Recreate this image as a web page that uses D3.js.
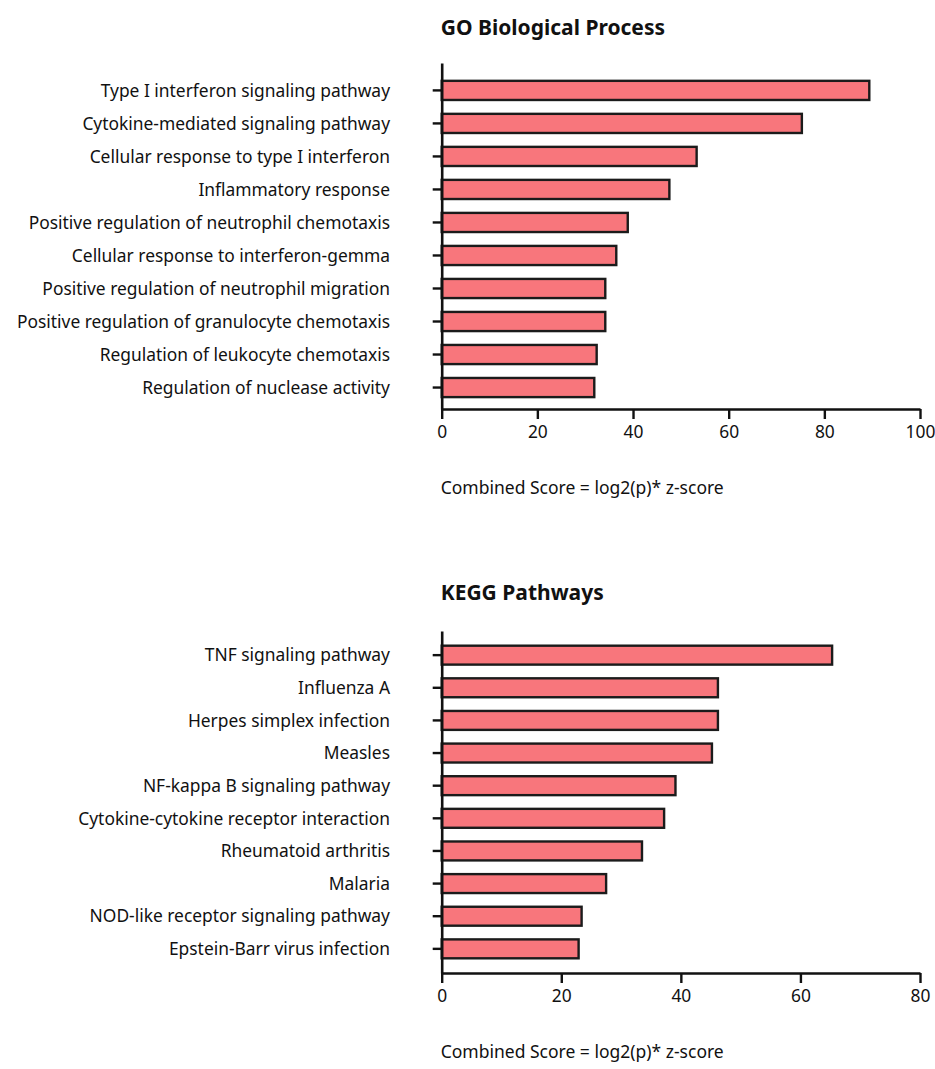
<!DOCTYPE html>
<html>
<head>
<meta charset="utf-8">
<script src="https://cdn.jsdelivr.net/npm/d3@7"></script>
<style>
  html, body { margin: 0; padding: 0; background: #fff; }
  svg { display: block; font-family: "Noto Sans", sans-serif; }
</style>
</head>
<body>
<svg id="chart" width="935" height="1069"></svg>
<script>
// Enrichment results: GO biological processes
const goTerms = [
  "Type I interferon signaling pathway",
  "Cytokine-mediated signaling pathway",
  "Cellular response to type I interferon",
  "Inflammatory response",
  "Positive regulation of neutrophil chemotaxis",
  "Cellular response to interferon-gemma",
  "Positive regulation of neutrophil migration",
  "Positive regulation of granulocyte chemotaxis",
  "Regulation of leukocyte chemotaxis",
  "Regulation of nuclease activity"
];
const goScores = [89.4, 75.3, 53.3, 47.6, 38.9, 36.5, 34.2, 34.2, 32.4, 31.9];
const goTicks = [0, 20, 40, 60, 80, 100];

// Enrichment results: KEGG pathways
const keggTerms = [
  "TNF signaling pathway",
  "Influenza A",
  "Herpes simplex infection",
  "Measles",
  "NF-kappa B signaling pathway",
  "Cytokine-cytokine receptor interaction",
  "Rheumatoid arthritis",
  "Malaria",
  "NOD-like receptor signaling pathway",
  "Epstein-Barr virus infection"
];
const keggScores = [65.3, 46.2, 46.2, 45.2, 39.1, 37.2, 33.5, 27.5, 23.4, 22.9];
const keggTicks = [0, 20, 40, 60, 80];

const axisLabel = "Combined Score = log2(p)* z-score";

const svg = d3.select("#chart");
const plotLeft = 441.7, plotRight = 920, labelX = 390;

function panel(opts) {
  const g = svg.append("g");
  const x = d3.scaleLinear()
    .domain([0, opts.ticks[opts.ticks.length - 1]])
    .range([plotLeft, plotRight]);
  const y = d3.scaleBand()
    .domain(opts.terms)
    .range([opts.top, opts.bottom])
    .paddingInner(0.42)
    .paddingOuter(0.45)
    .align(opts.align);

  // title
  g.append("text")
    .attr("x", plotLeft - 1)
    .attr("y", opts.titleY)
    .attr("font-size", 21)
    .attr("font-weight", "bold")
    .attr("fill", "#111")
    .text(opts.title);

  // bars
  g.selectAll("rect.bar")
    .data(opts.terms.map((t, i) => ({ term: t, value: opts.values[i] })))
    .join("rect")
    .attr("class", "bar")
    .attr("x", x(0))
    .attr("y", d => y(d.term))
    .attr("width", d => x(d.value) - x(0))
    .attr("height", y.bandwidth())
    .attr("fill", "#f8767c")
    .attr("stroke", "#1b1b1b")
    .attr("stroke-width", 2.4);

  // category axis (ticks only, labels drawn separately)
  const yAxis = g.append("g")
    .attr("transform", `translate(${plotLeft},0)`)
    .call(d3.axisLeft(y).tickSize(9).tickSizeOuter(0).tickFormat(""));
  yAxis.select(".domain").attr("stroke", "#111").attr("stroke-width", 2.6);
  yAxis.selectAll(".tick line").attr("stroke", "#111").attr("stroke-width", 2.4);

  g.selectAll("text.cat")
    .data(opts.terms)
    .join("text")
    .attr("class", "cat")
    .attr("x", labelX)
    .attr("y", d => y(d) + y.bandwidth() / 2)
    .attr("dy", "0.36em")
    .attr("text-anchor", "end")
    .attr("font-size", 17.4)
    .attr("fill", "#111")
    .text(d => d);

  // value axis
  const xAxis = g.append("g")
    .attr("transform", `translate(0,${opts.bottom})`)
    .call(d3.axisBottom(x).tickValues(opts.ticks).tickSize(10).tickSizeOuter(0).tickPadding(7));
  xAxis.select(".domain").attr("stroke", "#111").attr("stroke-width", 2.6);
  xAxis.selectAll(".tick line").attr("stroke", "#111").attr("stroke-width", 2.4);
  xAxis.selectAll(".tick text")
    .attr("font-size", 17.4)
    .attr("font-family", "Noto Sans, sans-serif")
    .attr("fill", "#111");

  g.append("text")
    .attr("x", plotLeft - 1)
    .attr("y", opts.noteY)
    .attr("font-size", 17.5)
    .attr("fill", "#111")
    .text(axisLabel);
}

panel({
  title: "GO Biological Process",
  terms: goTerms, values: goScores, ticks: goTicks,
  top: 63, bottom: 409, align: 0.6,
  titleY: 35, noteY: 494
});

panel({
  title: "KEGG Pathways",
  terms: keggTerms, values: keggScores, ticks: keggTicks,
  top: 631, bottom: 973, align: 0.5,
  titleY: 600, noteY: 1058
});
</script>
</body>
</html>
